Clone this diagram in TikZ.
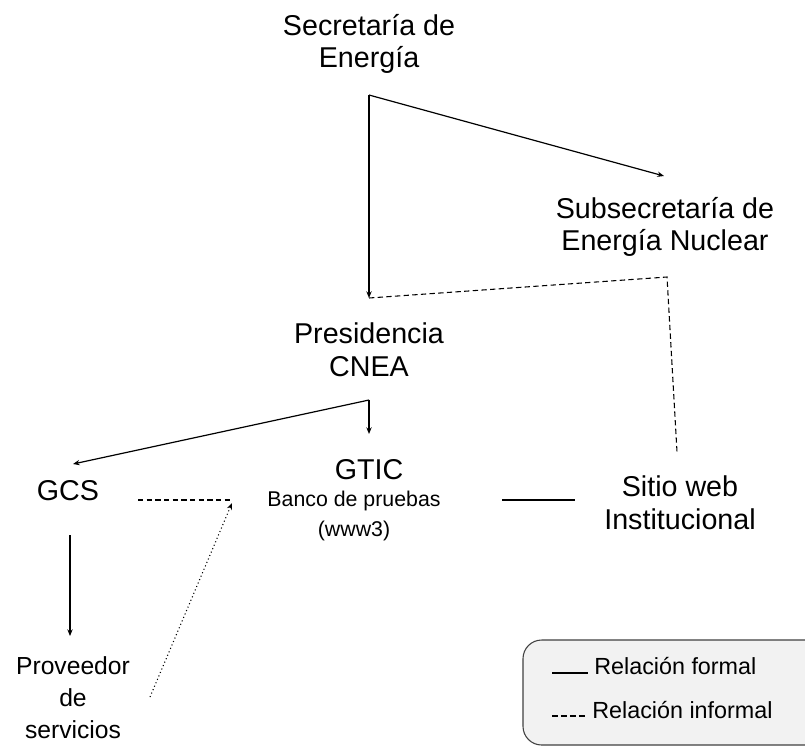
\documentclass[tikz,border=0pt]{standalone}
\usepackage{fontspec}
\setmainfont{Liberation Sans}
\usetikzlibrary{arrows.meta}
\begin{document}
\begin{tikzpicture}[x=0.75pt,y=-0.75pt,
  big/.style={font=\fontsize{21.5}{24.5}\selectfont,align=center,inner sep=0pt},
  mid/.style={font=\fontsize{16}{22.5}\selectfont,align=center,inner sep=0pt},
  small/.style={font=\fontsize{18.5}{24}\selectfont,align=center,inner sep=0pt},
  leg/.style={font=\fontsize{17.5}{20}\selectfont,anchor=west,inner sep=0pt},
  formal/.style={line width=0.9pt,-{Stealth[length=5pt,width=4pt]}},
  informal/.style={line width=0.8pt,dash pattern=on 4pt off 2.5pt},
  plain/.style={line width=0.9pt}]
\useasboundingbox (0,0) rectangle (805,751);
% legend box
\draw[fill=black!5,draw=black!75,line width=0.8pt,rounded corners=14pt] (523,640) rectangle (830,745);
% nodes
\node[big] (sec) at (369,44) {Secretaría de\\Energía};
\node[big] (sub) at (665,227) {Subsecretaría de\\Energía Nuclear};
\node[big] (pres) at (369,350) {Presidencia\\CNEA};
\node[big] (gcs) at (68,491) {GCS};
\node[big] (gtic) at (369,470) {GTIC};
\node[mid] (banco) at (354,516) {Banco de pruebas\\(www3)};
\node[big] (web) at (680,503) {Sitio web\\Institucional};
\node[small] (prov) at (73,698) {Proveedor\\de\\servicios};
% junction coordinates
\coordinate (s0) at (369,95);
\coordinate (s1) at (369,298);
\coordinate (s2) at (664,176);
\coordinate (d1) at (667,277);
\coordinate (d2) at (677,452);
\coordinate (p0) at (369,400);
\coordinate (p1) at (369,434);
\coordinate (p2) at (73,464);
\coordinate (g0) at (138,500);
\coordinate (g1) at (231,500);
\coordinate (v0) at (150,697);
\coordinate (v1) at (232,503);
\coordinate (g2) at (70,535);
\coordinate (g3) at (70,636);
\coordinate (w0) at (502,500);
\coordinate (w1) at (575,500);
% connectors
\draw[formal] (s0) -- (s1);
\draw[formal] (s0) -- (s2);
\draw[informal] (s1) -- (d1) -- (d2);
\draw[formal] (p0) -- (p1);
\draw[formal] (p0) -- (p2);
\draw[informal] (g0) -- (g1);
\draw[line width=0.8pt,dotted,-{Stealth[length=5pt,width=4pt]}] (v0) -- (v1);
\draw[formal] (g2) -- (g3);
\draw[plain] (w0) -- (w1);
% legend content
\coordinate (l1a) at (552,673);
\coordinate (l1b) at (588,673);
\coordinate (l2a) at (552,716);
\coordinate (l2b) at (587,716);
\draw[line width=0.8pt] (l1a) -- (l1b);
\draw[line width=0.9pt,dash pattern=on 4.5pt off 2.2pt] (l2a) -- (l2b);
\node[leg] (lf) at (594,666) {Relación formal};
\node[leg] (li) at (592,710) {Relación informal};
\end{tikzpicture}
\end{document}
